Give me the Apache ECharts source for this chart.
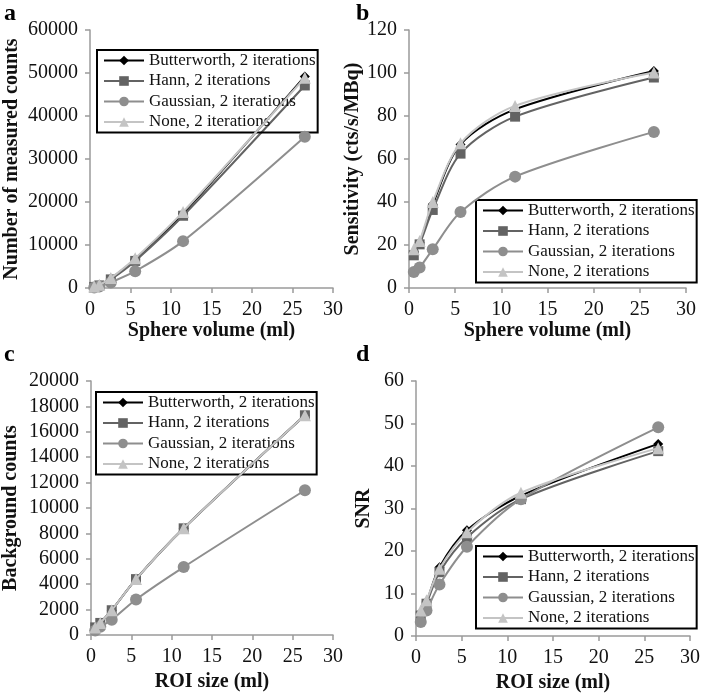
<!DOCTYPE html>
<html>
<head>
<meta charset="utf-8">
<script src="https://cdn.jsdelivr.net/npm/echarts@6/dist/echarts.min.js"></script>
<style>
html,body{margin:0;padding:0;background:#fff;}
#chart{width:709px;height:696px;}
</style>
</head>
<body>
<div id="chart"></div>
<script>
// ---- data ----
const seriesNames = ['Butterworth, 2 iterations', 'Hann, 2 iterations', 'Gaussian, 2 iterations', 'None, 2 iterations'];
const volumes = [0.52, 1.15, 2.57, 5.58, 11.49, 26.52];
const xTicks = [0, 5, 10, 15, 20, 25, 30];

// a: Number of measured counts
const countsButterworth = [300, 700, 2200, 6700, 17300, 49200];
const countsHann        = [250, 600, 2000, 6300, 16800, 47100];
const countsGaussian    = [120, 350, 1300, 3900, 10900, 35200];
const countsNone        = [320, 750, 2300, 6900, 17700, 48900];

// b: Sensitivity (cts/s/MBq)
const sensButterworth = [16.6, 21.0, 38.9, 66.8, 83.1, 100.9];
const sensHann        = [15.2, 20.3, 36.3, 62.5, 79.7, 97.9];
const sensGaussian    = [7.4, 9.5, 18.0, 35.3, 51.8, 72.6];
const sensNone        = [18.0, 21.9, 40.0, 67.3, 84.7, 100.2];

// c: Background counts
const bgButterworth = [600, 950, 1950, 4400, 8400, 17300];
const bgHann        = [600, 950, 1950, 4400, 8400, 17300];
const bgGaussian    = [350, 650, 1200, 2800, 5350, 11400];
const bgNone        = [600, 950, 1950, 4400, 8400, 17300];

// d: SNR
const snrButterworth = [5.5, 8.0, 16.2, 24.9, 33.0, 45.2];
const snrHann        = [4.8, 7.6, 15.0, 23.2, 32.2, 43.5];
const snrGaussian    = [3.3, 6.0, 12.1, 21.0, 32.2, 49.1];
const snrNone        = [6.0, 8.4, 15.8, 24.4, 33.7, 44.2];

// ---- styles ----
const FONT = 'Liberation Serif';
const colors = ['#000000', '#636363', '#8e8e8e', '#c4c4c4'];
const symbols = ['diamond', 'rect', 'circle', 'triangle'];
const symbolSizes = [10, 10, 12, 12];

const grids = [
  {left: 90, top: 30, width: 243, height: 258},
  {left: 409, top: 30, width: 277, height: 258},
  {left: 90, top: 381, width: 243, height: 254},
  {left: 416, top: 381, width: 274, height: 255}
];

const panels = [
  {data: [countsButterworth, countsHann, countsGaussian, countsNone], yMax: 60000, yInt: 10000, xName: 'Sphere volume (ml)', yName: 'Number of measured counts', yGap: 68, xGap: 33, legend: {left: 97, top: 50}},
  {data: [sensButterworth, sensHann, sensGaussian, sensNone], yMax: 120, yInt: 20, xName: 'Sphere volume (ml)', yName: 'Sensitivity (cts/s/MBq)', yGap: 37, xGap: 33, legend: {left: 476, top: 200}},
  {data: [bgButterworth, bgHann, bgGaussian, bgNone], yMax: 20000, yInt: 2000, xName: 'ROI size (ml)', yName: 'Background counts', yGap: 70, xGap: 37, legend: {left: 96, top: 392}},
  {data: [snrButterworth, snrHann, snrGaussian, snrNone], yMax: 60, yInt: 10, xName: 'ROI size (ml)', yName: 'SNR', yGap: 42, xGap: 37, legend: {left: 476, top: 546}}
];

const axisColor = '#9a9a9a';
const xAxes = [], yAxes = [], series = [], legends = [];
const plain = v => String(v);

panels.forEach((p, i) => {
  xAxes.push({
    type: 'value', gridIndex: i, min: xTicks[0], max: xTicks[xTicks.length - 1], interval: 5,
    name: p.xName, nameLocation: 'middle', nameGap: p.xGap,
    nameTextStyle: {fontFamily: FONT, fontSize: 20, fontWeight: 'bold', color: '#111'},
    axisLine: {show: true, onZero: false, lineStyle: {color: axisColor, width: 1.5}},
    axisTick: {show: true, inside: false, length: 5, lineStyle: {color: axisColor, width: 1.5}},
    axisLabel: {fontFamily: FONT, fontSize: 20, color: '#111', margin: 12, formatter: plain},
    splitLine: {show: false}
  });
  yAxes.push({
    type: 'value', gridIndex: i, min: 0, max: p.yMax, interval: p.yInt,
    name: p.yName, nameLocation: 'middle', nameGap: p.yGap, nameRotate: 90,
    nameTextStyle: {fontFamily: FONT, fontSize: 20, fontWeight: 'bold', color: '#111'},
    axisLine: {show: true, lineStyle: {color: axisColor, width: 1.5}},
    axisTick: {show: true, inside: false, length: 5, lineStyle: {color: axisColor, width: 1.5}},
    axisLabel: {fontFamily: FONT, fontSize: 20, color: '#111', margin: 12, formatter: plain},
    splitLine: {show: false}
  });
  p.data.forEach((vals, k) => {
    series.push({
      name: seriesNames[k], type: 'line', xAxisIndex: i, yAxisIndex: i,
      data: volumes.map((v, j) => [v, vals[j]]),
      smooth: 0.3,
      symbol: symbols[k], symbolSize: symbolSizes[k], showSymbol: true,
      lineStyle: {color: colors[k], width: 2},
      itemStyle: {color: colors[k]},
      z: 2 + k,
      animation: false
    });
  });
  legends.push({
    orient: 'vertical', left: p.legend.left, top: p.legend.top,
    data: seriesNames,
    itemWidth: 40, itemHeight: 12, itemGap: 3.5,
    padding: [2, 2, 2, 6],
    borderColor: '#000', borderWidth: 2,
    textStyle: {fontFamily: FONT, fontSize: 17, color: '#111', lineHeight: 17},
    selectedMode: false
  });
});

const letters = [['a', 4, 2], ['b', 356, 2], ['c', 4, 343], ['d', 356, 343]];

const chart = echarts.init(document.getElementById('chart'), null, {renderer: 'canvas'});
chart.setOption({
  backgroundColor: '#ffffff',
  animation: false,
  textStyle: {fontFamily: FONT},
  grid: grids,
  xAxis: xAxes,
  yAxis: yAxes,
  legend: legends,
  series: series,
  graphic: letters.map(l => ({
    type: 'text', left: l[1], top: l[2],
    style: {text: l[0], fontFamily: FONT, fontSize: 24, fontWeight: 'bold', fill: '#000'}
  }))
});
</script>
</body>
</html>
